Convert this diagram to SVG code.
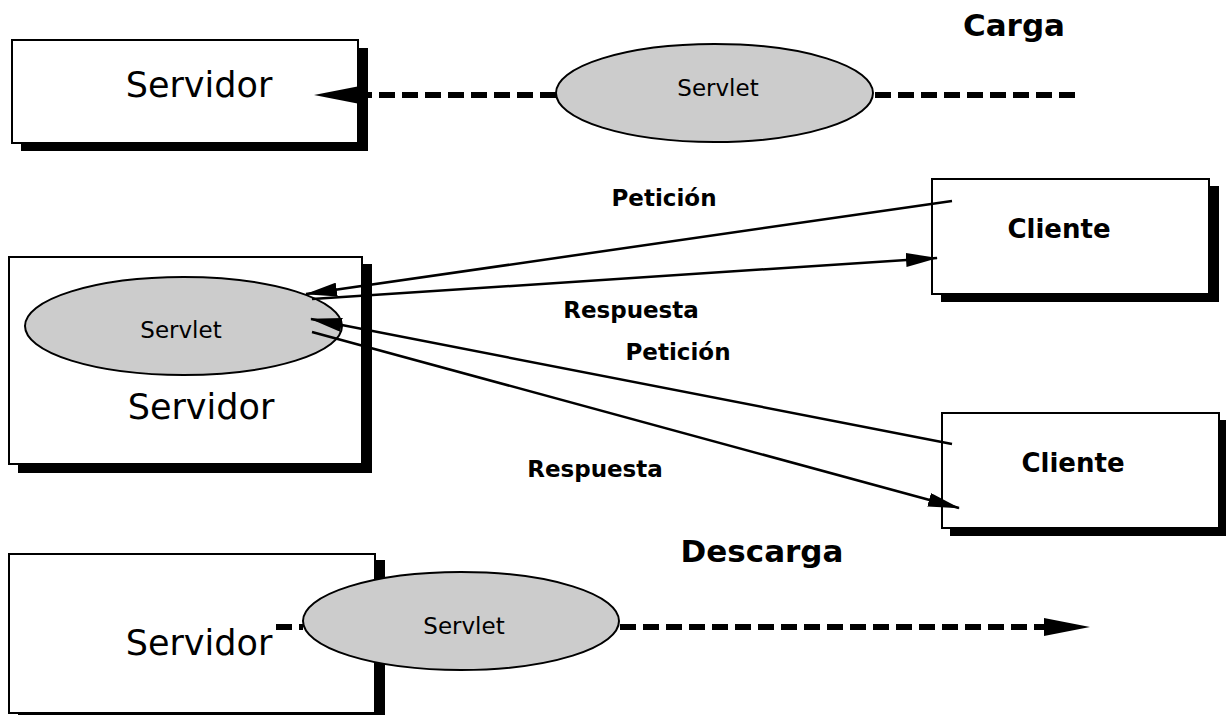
<svg xmlns="http://www.w3.org/2000/svg" width="1226" height="715" viewBox="0 0 1226 715">
<style>
.box{fill:#fff;stroke:#000;stroke-width:2}
.sh{fill:#000}
.serv{fill:#cccccc;stroke:#000;stroke-width:2}
.big{font-family:"DejaVu Sans","Liberation Sans",sans-serif;font-size:35px;text-anchor:middle;fill:#000}
.sl{font-family:"DejaVu Sans","Liberation Sans",sans-serif;font-size:23px;text-anchor:middle;fill:#000}
.cl{font-family:"DejaVu Sans","Liberation Sans",sans-serif;font-size:26px;font-weight:bold;text-anchor:middle;fill:#000}
.ttl{font-family:"DejaVu Sans","Liberation Sans",sans-serif;font-size:31px;font-weight:bold;text-anchor:middle;fill:#000}
.lbl{font-family:"DejaVu Sans","Liberation Sans",sans-serif;font-size:23px;font-weight:bold;text-anchor:middle;fill:#000}
.ln{stroke:#000;stroke-width:2.5;fill:none}
.dash{stroke:#000;stroke-width:6;fill:none;stroke-dasharray:16 7}
</style>
<defs>
<marker id="a" markerUnits="userSpaceOnUse" viewBox="0 0 32 14" refX="31" refY="7" markerWidth="32" markerHeight="14" orient="auto">
<path d="M0,0 L32,7 L0,14 Z" fill="#000" stroke="none"/>
</marker>
<marker id="b" markerUnits="userSpaceOnUse" viewBox="0 0 46 20" refX="2" refY="10" markerWidth="46" markerHeight="20" orient="auto">
<path d="M0,1 L46,10 L0,19 Z" fill="#000" stroke="none"/>
</marker>
</defs>

<text class="ttl" x="1014" y="36">Carga</text>
<text class="ttl" x="762" y="562">Descarga</text>

<g id="servidor-top">
<rect class="sh" x="21" y="48" width="347" height="103"/>
<rect class="box" x="12" y="40" width="346" height="103"/>
<text class="big" x="199" y="97">Servidor</text>
</g>
<g id="servlet-top">
<ellipse class="serv" cx="714.5" cy="93" rx="158.5" ry="49"/>
<text class="sl" x="718" y="96">Servlet</text>
</g>

<g id="servidor-mid">
<rect class="sh" x="18" y="264" width="354" height="209"/>
<rect class="box" x="9" y="257" width="353" height="207"/>
<text class="big" x="201" y="419">Servidor</text>
</g>
<g id="servlet-mid">
<ellipse class="serv" cx="183.5" cy="326" rx="158.5" ry="49"/>
<text class="sl" x="181" y="338">Servlet</text>
</g>

<g id="cliente-1">
<rect class="sh" x="941" y="186" width="278" height="116"/>
<rect class="box" x="932" y="179" width="277" height="115"/>
<text class="cl" x="1059" y="238">Cliente</text>
</g>
<g id="cliente-2">
<rect class="sh" x="950" y="420" width="278" height="116"/>
<rect class="box" x="942" y="413" width="277" height="115"/>
<text class="cl" x="1073" y="472">Cliente</text>
</g>

<g id="servidor-bot">
<rect class="sh" x="18" y="560" width="367" height="162"/>
<rect class="box" x="9" y="554" width="366" height="159"/>
<text class="big" x="199" y="655">Servidor</text>
</g>
<g id="servlet-bot">
<ellipse class="serv" cx="461" cy="621" rx="158" ry="49"/>
<text class="sl" x="464" y="634">Servlet</text>
</g>

<g id="connectors">
<line class="dash" x1="556" y1="95" x2="358" y2="95" marker-end="url(#b)"/>
<line class="dash" x1="1075" y1="95" x2="873" y2="95"/>
<line class="dash" x1="276" y1="627" x2="303" y2="627"/>
<line class="dash" x1="620" y1="627" x2="1046" y2="627" marker-end="url(#b)"/>
<line class="ln" x1="952" y1="201" x2="306" y2="294" marker-end="url(#a)"/>
<line class="ln" x1="312" y1="299" x2="937" y2="258" marker-end="url(#a)"/>
<line class="ln" x1="952" y1="444" x2="311" y2="319" marker-end="url(#a)"/>
<line class="ln" x1="312" y1="332" x2="959" y2="508" marker-end="url(#a)"/>
</g>

<g id="labels">
<text class="lbl" x="664" y="206">Petición</text>
<text class="lbl" x="631" y="318">Respuesta</text>
<text class="lbl" x="678" y="360">Petición</text>
<text class="lbl" x="595" y="477">Respuesta</text>
</g>
</svg>
